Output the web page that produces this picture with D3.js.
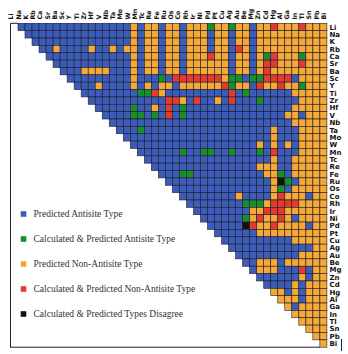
<!DOCTYPE html>
<html><head><meta charset="utf-8">
<script src="https://cdn.jsdelivr.net/npm/d3@7"></script>
<style>html,body{margin:0;padding:0;background:#fff;} svg{display:block;}</style>
</head><body><svg id="chart" width="348" height="354"></svg>
<script>
const elements = ["Li","Na","K","Rb","Ca","Sr","Ba","Sc","Y","Ti","Zr","Hf","V","Nb","Ta","Mo","W","Mn","Tc","Re","Fe","Ru","Os","Co","Rh","Ir","Ni","Pd","Pt","Cu","Ag","Au","Be","Mg","Zn","Cd","Hg","Al","Ga","In","Tl","Sn","Pb","Bi"];
const categories = ["Predicted Antisite Type","Calculated & Predicted Antisite Type","Predicted Non-Antisite Type","Calculated & Predicted Non-Antisite Type","Calculated & Predicted Types Disagree"];
const categoryCodes = ["B","G","O","R","K"];
const categoryColors = ["#3b5cb8","#17902c","#f6a935","#e63a2f","#111111"];
// row i lists the pair types for columns i..43
const pairTypes = [
"BBBBBBBBBBBBBBBBOBOOBOOBOOOGOOGOOBOOROOOROOO",
"BBBBBBBBBBBBBBBOBOOBOOBOOOBOOBOOBOOOOOOOOOO",
"BBBBBBBBBBBBBBOBOOBOOBOOOBOOBOOBOOOOOOOOOO",
"BBOBBBBOBBOBOOBOOBOOBOOOBOOBROBOOOOOOOOOO",
"BBBBBBBBBBBBOBOOBOOBOOOROOBOOBOGROOOGOOO",
"BBBBBBBBBBBOBOOBOOBOOOOOOBOOBORROOOROOO",
"BBBOOOOBBBOBOOBOOBOOOOOOBOOBOROOOOOOOO",
"BBBBBBBBBOBBBGBRRRRRRROGGBGGRRRRBOOOO",
"BBBOBBBBOBOBOOBOOOOOORGOOBROOROOGOOO",
"BBBBBBBBGGROBBBBBBBBBRBGBBBBBBOOOOO",
"BBBBBBBBBBBRROBRBBOBRBBBGBBBBBOOOO",
"BBBBBGBBOBRBGBBBBBBBBBBBBBBBOOOOO",
"BBBBGGBGBRBGBBBBBBBBBBBBBBOOBOOO",
"BBBBBBBBBBBBBBBBBBBBBBBBBBOOOOO",
"BBBGBBBBBBBBBBBBBBBBBBOBBBOOOO",
"BBBBBBBBBBBBBBBBBBBBBOBBBOOOO",
"BBBBBBBBBBBBBBBBBBOBOBOBOOOO",
"BBBBBBGBBGGBBGBBBGBRBBBOOOO",
"BBBBBBBBBBBBBBBBBBOBBOOOOO",
"BBBBBBBBBBBBBBBOOOBBOOOOO",
"BBBGGBBBBBBBBBBOOGBOOOOO",
"BBBBBBBBBBBBBBBOKGBOOOO",
"BBBBBBBBBBBBBBOGBOOOOO",
"BBBBBBBBOBBBBOROOOBOO",
"BBBBBBBBGGGORRRROOOO",
"BBBBBBBBOORRROOOOOO",
"BBBBBBGOROOROBOOOO",
"BBBBBKROOROOOOBOO",
"BBBBBBOOOOOOOOOO",
"BBBBBBBBBBOOOOO",
"BBBBBBBBBBBBOO",
"BBBBBBBBBOOOO",
"BBOOOBOOOOOO",
"BOOOBBBRBOO",
"BBBBBBOBOO",
"BBBBOBOOO",
"OOBOBOOO",
"OOOBOOO",
"OBOOOO",
"OOOOO",
"OOOO",
"OOO",
"OO",
"O"
];

const svg = d3.select("#chart");
const n = elements.length;
const x = d3.scaleBand().domain(elements).range([18, 326.9]).padding(0);
const y = d3.scaleBand().domain(elements).range([23.3, 347.2]).padding(0);
const color = d3.scaleOrdinal().domain(categoryCodes).range(categoryColors);

const cells = [];
pairTypes.forEach((row, i) => {
  for (let k = 0; k < n - i; k++) {
    const code = row[k] || "O";
    cells.push({r: elements[i], c: elements[i + k], code});
  }
});

// frame
svg.append("line").attr("x1",10.5).attr("x2",10.5).attr("y1",23.3).attr("y2",347.2).attr("stroke","#222").attr("stroke-width",1);
svg.append("line").attr("x1",10.5).attr("x2",18).attr("y1",23.3).attr("y2",23.3).attr("stroke","#222").attr("stroke-width",1);
svg.append("line").attr("x1",10).attr("x2",320).attr("y1",347.2).attr("y2",347.2).attr("stroke","#222").attr("stroke-width",1);
svg.append("line").attr("x1",341.5).attr("x2",341.5).attr("y1",339).attr("y2",351).attr("stroke","#222").attr("stroke-width",1);

svg.append("g").selectAll("rect").data(cells).join("rect")
  .attr("x", d => x(d.c)).attr("y", d => y(d.r))
  .attr("width", x.bandwidth()).attr("height", y.bandwidth())
  .attr("fill", d => color(d.code))
  .attr("stroke", "#1c1c2a").attr("stroke-width", 0.6);

// top labels
const xt = d3.scalePoint().domain(elements).range([11, 323.5]);
svg.append("g").selectAll("text").data(elements).join("text")
  .attr("transform", d => `translate(${xt(d)+2.3},19.5) rotate(-90)`)
  .attr("font-family","DejaVu Sans").attr("font-weight","bold").attr("font-size","6.3px")
  .attr("fill","#111").text(d => d);

// right labels
svg.append("g").selectAll("text").data(elements).join("text")
  .attr("x", 329.5).attr("y", d => y(d) + y.bandwidth()/2)
  .attr("dy","0.36em")
  .attr("font-family","DejaVu Sans").attr("font-weight","bold").attr("font-size","7px")
  .attr("fill","#111").text(d => d);

// legend
const ly = d3.scalePoint().domain(categories).range([214, 314]);
const lg = svg.append("g");
lg.selectAll("rect").data(categories).join("rect")
  .attr("x", 20.7).attr("y", d => ly(d) - 2.8).attr("width", 5.6).attr("height", 5.6)
  .attr("fill", (d,i) => categoryColors[i]);
lg.selectAll("text").data(categories).join("text")
  .attr("x", 33.5).attr("y", d => ly(d)).attr("dy","0.33em")
  .attr("font-family","Liberation Serif").attr("font-size","9.5px")
  .attr("fill","#333").text(d => d);
</script></body></html>
